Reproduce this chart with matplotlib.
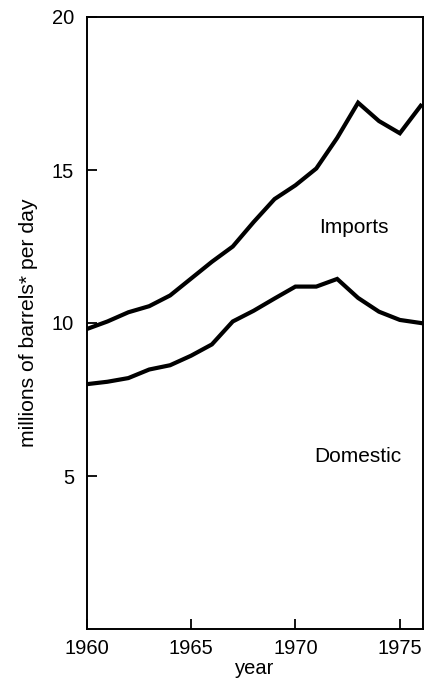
import matplotlib
matplotlib.use("Agg")
import matplotlib.pyplot as plt

years = [1960, 1961, 1962, 1963, 1964, 1965, 1966, 1967, 1968, 1969, 1970,
         1971, 1972, 1973, 1974, 1975, 1976]
total = [9.8, 10.05, 10.35, 10.55, 10.9, 11.45, 12.0, 12.5, 13.3, 14.05, 14.5,
         15.05, 16.05, 17.2, 16.6, 16.2, 17.1]
domestic = [8.0, 8.08, 8.2, 8.48, 8.62, 8.93, 9.3, 10.05, 10.4, 10.8, 11.19,
            11.19, 11.44, 10.82, 10.37, 10.1, 10.0]
xticks = [1960, 1965, 1970, 1975]
yticks = [5, 10, 15, 20]

plt.rcParams['font.family'] = ['Liberation Sans', 'DejaVu Sans']

fig = plt.figure(figsize=(4.35, 6.8), dpi=100)
ax = fig.add_axes([0.199, 0.075, 0.773, 0.900])

ax.plot(years, total, color='black', lw=3.0, solid_joinstyle='miter')
ax.plot(years, domestic, color='black', lw=3.0, solid_joinstyle='miter')

ax.set_xlim(1960, 1976.1)
ax.set_ylim(0, 20)
ax.set_xticks(xticks)
ax.set_yticks(yticks)
ax.tick_params(direction='in', length=7, width=1.3, labelsize=14.5, pad=9)
ax.tick_params(axis='x', pad=7)
for s in ax.spines.values():
    s.set_linewidth(1.4)

ax.set_xlabel('year', fontsize=14.5, labelpad=1)
ax.set_ylabel('millions of barrels* per day', fontsize=15.2, labelpad=10)

ax.text(1972.8, 13.13, 'Imports', fontsize=15, ha='center', va='center')
ax.text(1973.0, 5.63, 'Domestic', fontsize=15, ha='center', va='center')

fig.savefig('out.png', dpi=100)
